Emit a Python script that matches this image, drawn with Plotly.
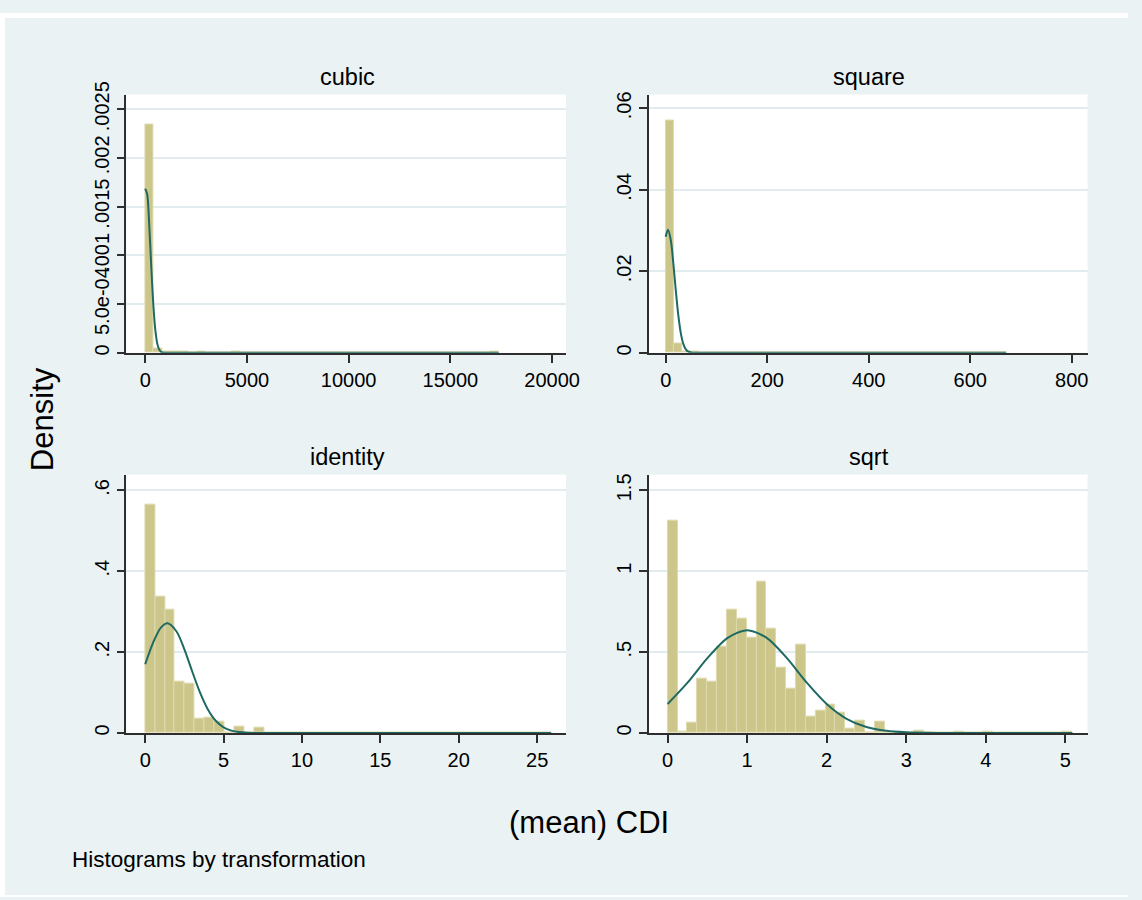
import plotly.graph_objects as go

W, H = 1142, 900

# ---------------- data ----------------
panel_names = ["cubic", "square", "identity", "sqrt"]

# histogram bins: start, width, heights (density)
cubic_bin_start = 0.0
cubic_bin_width = 423.9
cubic_heights = [0.002346, 0.00004, 0.00001, 0.00001, 0.00001, 0, 0.00001, 0, 0, 0,
                 0.00001, 0, 0, 0, 0, 0, 0, 0, 0, 0,
                 0, 0, 0, 0, 0, 0, 0, 0, 0, 0,
                 0, 0, 0, 0, 0, 0, 0, 0, 0, 0,
                 0.00001]

square_bin_start = 0.0
square_bin_width = 16.37
square_heights = [0.0571, 0.0024, 0.0004, 0.0003, 0.0002, 0.0001, 0.0001, 0.0001, 0.0001, 0.0001,
                  0.0001, 0.0001, 0, 0, 0, 0, 0.0001, 0, 0, 0,
                  0, 0, 0, 0, 0, 0, 0, 0, 0, 0,
                  0, 0, 0, 0, 0, 0, 0, 0, 0, 0,
                  0.0001]

identity_bin_start = 0.0
identity_bin_width = 0.6317
identity_heights = [0.566, 0.338, 0.306, 0.127, 0.121, 0.036, 0.039, 0.027, 0, 0.016,
                    0, 0.014, 0, 0.001, 0, 0.001, 0.001, 0, 0, 0,
                    0.001, 0, 0, 0, 0, 0.001, 0, 0, 0, 0,
                    0, 0, 0, 0, 0, 0, 0, 0, 0, 0,
                    0.001]

sqrt_bin_start = 0.0
sqrt_bin_width = 0.1241
sqrt_heights = [1.311, 0.010, 0.061, 0.333, 0.315, 0.531, 0.764, 0.707, 0.590, 0.933,
                0.642, 0.402, 0.277, 0.547, 0.103, 0.135, 0.176, 0.127, 0.028, 0.077,
                0, 0.069, 0, 0, 0, 0.012, 0, 0, 0, 0.006,
                0, 0, 0.006, 0, 0, 0, 0, 0, 0, 0,
                0.006]

# normal density overlays
cubic_curve_x = [0, 100, 200, 300, 400, 500, 600, 700, 800, 900, 1000, 17380]
cubic_curve_y = [0.001684, 0.001624, 0.001307, 0.000878, 0.000492, 0.000230, 0.0000896,
                 0.0000292, 0.0000079, 0.0000018, 0.0000003, 0]

square_curve_x = [0, 4.5, 10, 15, 20, 25, 30, 35, 40, 45, 50, 60, 671]
square_curve_y = [0.02851, 0.03022, 0.02771, 0.02203, 0.01517, 0.00905, 0.00467, 0.00209,
                  0.00081, 0.00027, 0.00008, 0.00000, 0]

identity_curve_x = [0, 0.5, 1.0, 1.42, 2.0, 2.5, 3.0, 3.5, 4.0, 4.5, 5.0, 5.5, 6.0, 6.5, 7.0, 8.0, 25.9]
identity_curve_y = [0.170, 0.223, 0.2605, 0.2714, 0.251, 0.207, 0.152, 0.0997, 0.0582, 0.0302,
                    0.0140, 0.00577, 0.00212, 0.00069, 0.0002, 0.00001, 0]

sqrt_curve_x = [0, 0.25, 0.5, 0.75, 1.0, 1.25, 1.5, 1.75, 2.0, 2.25, 2.5, 2.75, 3.0, 3.25, 3.5, 4.0, 5.09]
sqrt_curve_y = [0.179, 0.311, 0.4625, 0.5866, 0.635, 0.5866, 0.4625, 0.311, 0.179, 0.0876,
                0.0366, 0.0131, 0.0040, 0.00104, 0.00023, 0.00001, 0]

# ticks
cubic_xticks = [0, 5000, 10000, 15000, 20000]
cubic_yticks = [0, 0.0005, 0.001, 0.0015, 0.002, 0.0025]
cubic_ylabels = ["0", "5.0e-04", ".001", ".0015", ".002", ".0025"]

square_xticks = [0, 200, 400, 600, 800]
square_yticks = [0, 0.02, 0.04, 0.06]
square_ylabels = ["0", ".02", ".04", ".06"]

identity_xticks = [0, 5, 10, 15, 20, 25]
identity_yticks = [0, 0.2, 0.4, 0.6]
identity_ylabels = ["0", ".2", ".4", ".6"]

sqrt_xticks = [0, 1, 2, 3, 4, 5]
sqrt_yticks = [0, 0.5, 1, 1.5]
sqrt_ylabels = ["0", ".5", "1", "1.5"]

x_title = "(mean) CDI"
y_title = "Density"
note_text = "Histograms by transformation"

# ---------------- styling / layout ----------------
BG = "#EAF2F3"
GRID = "#E2EBEE"
AXIS = "#2e2e2e"
BAR_FILL = "#CCC68A"
BAR_LINE = "#DEDAAE"
CURVE = "#1E6A62"
FONT = "Liberation Sans, Arial, sans-serif"


def px(x):
    return x / W


def py(y):
    return 1 - y / H


# plot areas in pixels: (left, right, top, bottom)
boxes = [(128, 573, 83, 346), (657, 1101, 83, 346), (128, 573, 470, 733), (657, 1101, 470, 733)]
xranges = [[-922, 20680], [-33, 831], [-1.197, 26.84], [-0.235, 5.28]]
yranges = [[0, 0.00265], [0, 0.0634], [0, 0.639], [0, 1.597]]

hists = [
    (cubic_bin_start, cubic_bin_width, cubic_heights),
    (square_bin_start, square_bin_width, square_heights),
    (identity_bin_start, identity_bin_width, identity_heights),
    (sqrt_bin_start, sqrt_bin_width, sqrt_heights),
]
curves = [
    (cubic_curve_x, cubic_curve_y),
    (square_curve_x, square_curve_y),
    (identity_curve_x, identity_curve_y),
    (sqrt_curve_x, sqrt_curve_y),
]
xticks = [cubic_xticks, square_xticks, identity_xticks, sqrt_xticks]
yticks = [cubic_yticks, square_yticks, identity_yticks, sqrt_yticks]
ylabels = [cubic_ylabels, square_ylabels, identity_ylabels, sqrt_ylabels]

fig = go.Figure()

layout = dict(
    width=W, height=H, autosize=False,
    margin=dict(l=0, r=0, t=0, b=0),
    paper_bgcolor=BG, plot_bgcolor="white",
    showlegend=False, bargap=0,
    font=dict(family=FONT, color="black"),
)

annotations = []
for i in range(4):
    n = "" if i == 0 else str(i + 1)
    xa, ya = "x" + n, "y" + n
    start, width, heights = hists[i]
    centers = [start + (k + 0.5) * width for k in range(len(heights))]
    fig.add_trace(go.Bar(
        x=centers, y=heights, width=width, xaxis=xa, yaxis=ya,
        marker=dict(color=BAR_FILL, line=dict(color=BAR_LINE, width=1)),
        hoverinfo="skip",
    ))
    cx, cy = curves[i]
    fig.add_trace(go.Scatter(
        x=cx, y=cy, mode="lines", xaxis=xa, yaxis=ya,
        line=dict(color=CURVE, width=2, shape="spline", smoothing=0.8),
        hoverinfo="skip",
    ))
    l, r, t, b = boxes[i]
    layout["xaxis" + n] = dict(
        domain=[px(l), px(r)], range=xranges[i], anchor=ya,
        tickmode="array", tickvals=xticks[i], ticktext=[str(v) for v in xticks[i]],
        showline=True, linecolor=AXIS, linewidth=1.5,
        ticks="outside", ticklen=8, tickwidth=1.5, tickcolor=AXIS,
        showgrid=False, zeroline=False,
        tickfont=dict(size=20, family=FONT, color="black"),
        fixedrange=True,
    )
    layout["yaxis" + n] = dict(
        domain=[py(b), py(t)], range=yranges[i], anchor=xa,
        tickmode="array", tickvals=yticks[i], ticktext=ylabels[i],
        showline=True, linecolor=AXIS, linewidth=1.5,
        ticks="outside", ticklen=8, tickwidth=1.5, tickcolor=AXIS,
        showgrid=True, gridcolor=GRID, gridwidth=1.5, zeroline=False,
        tickangle=-90,
        tickfont=dict(size=20, family=FONT, color="black"),
        fixedrange=True,
    )
    annotations.append(dict(
        text=panel_names[i], xref="paper", yref="paper",
        x=px((l + r) / 2 + 1), y=py(t), xanchor="center", yanchor="bottom", yshift=3,
        showarrow=False, font=dict(size=23.5, family=FONT, color="black"),
    ))

annotations.append(dict(
    text=y_title, xref="paper", yref="paper", x=px(43), y=py(413),
    xanchor="center", yanchor="middle", textangle=-90, showarrow=False,
    font=dict(size=31, family=FONT, color="black"),
))
annotations.append(dict(
    text=x_title, xref="paper", yref="paper", x=px(596), y=py(824),
    xanchor="center", yanchor="middle", showarrow=False,
    font=dict(size=31, family=FONT, color="black"),
))
annotations.append(dict(
    text=note_text, xref="paper", yref="paper", x=px(71), y=py(862),
    xanchor="left", yanchor="middle", showarrow=False,
    font=dict(size=22.5, family=FONT, color="black"),
))
layout["annotations"] = annotations

# thin white outer border (top, left, bottom) as in the reference image
layout["shapes"] = [
    dict(type="rect", xref="paper", yref="paper", x0=0, x1=1, y0=py(5), y1=1,
         fillcolor="white", line=dict(width=0), layer="below"),
    dict(type="rect", xref="paper", yref="paper", x0=0, x1=px(5), y0=0, y1=1,
         fillcolor="white", line=dict(width=0), layer="below"),
    dict(type="rect", xref="paper", yref="paper", x0=0, x1=1, y0=0, y1=py(898),
         fillcolor="white", line=dict(width=0), layer="below"),
]

fig.update_layout(**layout)
fig.write_html("out.html", config={"displayModeBar": False},
               post_script="document.body.style.margin='0';")
